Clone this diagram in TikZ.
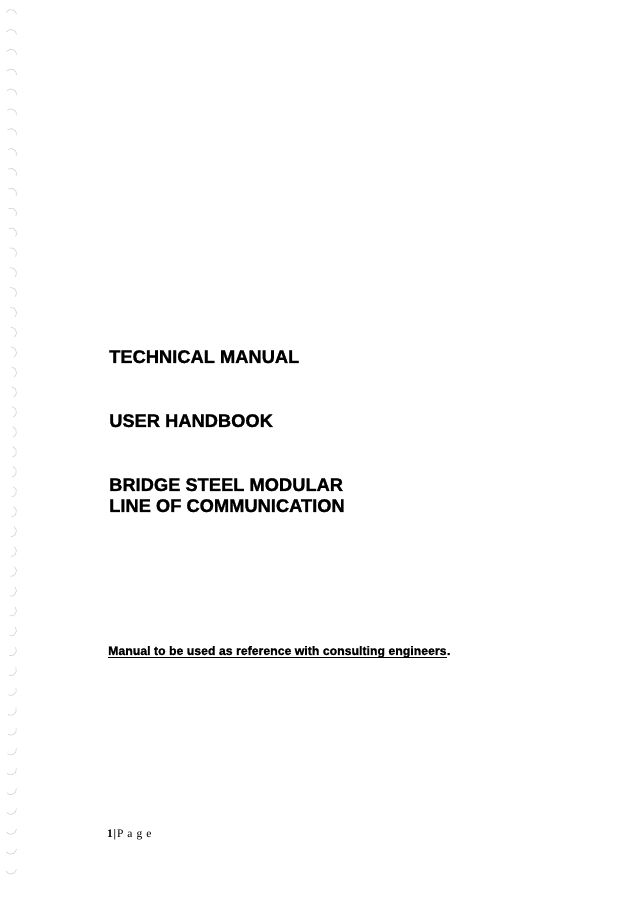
\documentclass[tikz,border=0pt]{standalone}
\usepackage{fontspec}
\setmainfont{Liberation Serif}[BoldFont={Liberation Serif Bold}]
\newfontfamily\arialbold{Liberation Sans Bold}[FakeBold=1.2]
\tikzset{
  titletext/.style={anchor=base west, inner sep=0pt, font=\arialbold\fontsize{18.3}{21}\selectfont},
  notetext/.style={anchor=base west, inner sep=0pt, font=\arialbold\fontsize{12.3}{14}\selectfont},
  pagetext/.style={anchor=base west, inner sep=0pt, font=\fontsize{11.5}{13}\selectfont},
  hole/.style={draw=black!16, line width=0.7pt},
  uline/.style={draw=black, line width=1pt}
}
\begin{document}
\begin{tikzpicture}[x=1pt,y=1pt]
\useasboundingbox[fill=white] (0,0) rectangle (637,901);
% binding hole marks on the left edge
\foreach \i in {0,...,43}{
  \pgfmathsetmacro{\yy}{901-15-\i*19.85}
  \pgfmathsetmacro{\cc}{80-160*\i/43}
  \pgfmathsetmacro{\ss}{\cc+72}
  \pgfmathsetmacro{\ee}{\cc-72}
  \draw[hole] (11,\yy) ++(\ss:5.5) arc[start angle=\ss, end angle=\ee, radius=5.5];
}
\node[titletext] (t1) at (109,901-363) {TECHNICAL MANUAL};
\node[titletext] (t2) at (109,901-427) {USER HANDBOOK};
\node[titletext] (t3) at (109,901-491) {BRIDGE STEEL MODULAR};
\node[titletext] (t4) at (109,901-512) {LINE OF COMMUNICATION};
\node[notetext] (n1) at (108,901-655) {Manual to be used as reference with consulting engineers};
\node[notetext] (n2) at (n1.base east) {.};
\draw[uline] ([yshift=-2.6pt]n1.base west) -- ([yshift=-2.6pt]n1.base east);
\node[pagetext] (pg) at (107,901-838) {\textbf{1}\hspace{0.8pt}\textbf{|}\hspace{0.8pt}P\hspace{4pt}a\hspace{4pt}g\hspace{4pt}e};
\end{tikzpicture}
\end{document}
